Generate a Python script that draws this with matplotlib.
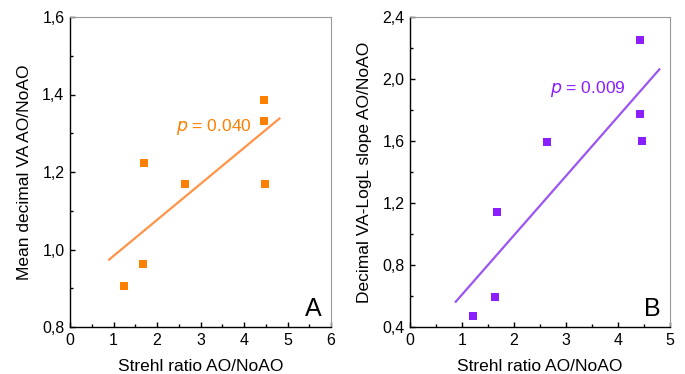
import matplotlib
matplotlib.use("Agg")
import matplotlib.pyplot as plt
from matplotlib.ticker import MultipleLocator, FuncFormatter

# Panel A data
strehl_a = [1.24, 1.67, 1.69, 2.65, 4.45, 4.46, 4.48]
va_a = [0.905, 0.962, 1.223, 1.168, 1.385, 1.332, 1.169]
fit_a_x = [0.90, 4.815]
fit_a_y = [0.974, 1.338]

# Panel B data
strehl_b = [1.21, 1.64, 1.67, 2.63, 4.42, 4.43, 4.46]
slope_b = [0.473, 0.594, 1.144, 1.594, 2.254, 1.774, 1.602]
fit_b_x = [0.88, 4.795]
fit_b_y = [0.563, 2.062]

plt.rcParams['font.family'] = ['Liberation Sans', 'DejaVu Sans']

fig = plt.figure(figsize=(6.85, 3.74), dpi=100)
axA = fig.add_axes([70/685, 1-327/374, 261/685, 310/374])
axB = fig.add_axes([410/685, 1-327/374, 260/685, 310/374])

comma = FuncFormatter(lambda v, p: f"{v:.1f}".replace('.', ','))

def style(ax):
    for s in ['top', 'right']:
        ax.spines[s].set_color('#999999')
        ax.spines[s].set_linewidth(0.8)
    for s in ['left', 'bottom']:
        ax.spines[s].set_color('black')
        ax.spines[s].set_linewidth(1.0)
    ax.tick_params(which='both', direction='in', top=False, right=False,
                   labelsize=11.5, pad=4)
    ax.tick_params(which='major', length=3.5, width=1)
    ax.tick_params(which='minor', length=2.5, width=1)

orange = '#FF7F00'
purple = '#8A1EFF'

axA.plot(fit_a_x, fit_a_y, color='#FF9448', lw=1.6)
axA.scatter(strehl_a, va_a, marker='s', s=30, color=orange, zorder=3, linewidths=0)
axA.set_xlim(0, 6)
axA.set_ylim(0.8, 1.6)
axA.xaxis.set_major_locator(MultipleLocator(1))
axA.xaxis.set_minor_locator(MultipleLocator(0.5))
axA.yaxis.set_major_locator(MultipleLocator(0.2))
axA.yaxis.set_minor_locator(MultipleLocator(0.1))
axA.yaxis.set_major_formatter(comma)
axA.set_xlabel('Strehl ratio AO/NoAO', fontsize=12.5, labelpad=8)
axA.set_ylabel('Mean decimal VA AO/NoAO', fontsize=12.5, labelpad=7)
axA.text(2.43, 1.316, r'$p$ = 0.040', color=orange, fontsize=12.5, va='center', ha='left')
axA.text(0.965, 0.02, 'A', transform=axA.transAxes, fontsize=18, ha='right', va='bottom')
style(axA)

axB.plot(fit_b_x, fit_b_y, color='#9B55F2', lw=1.6)
axB.scatter(strehl_b, slope_b, marker='s', s=30, color=purple, zorder=3, linewidths=0)
axB.set_xlim(0, 5)
axB.set_ylim(0.4, 2.4)
axB.xaxis.set_major_locator(MultipleLocator(1))
axB.xaxis.set_minor_locator(MultipleLocator(0.5))
axB.yaxis.set_major_locator(MultipleLocator(0.4))
axB.yaxis.set_minor_locator(MultipleLocator(0.2))
axB.yaxis.set_major_formatter(comma)
axB.set_xlabel('Strehl ratio AO/NoAO', fontsize=12.5, labelpad=8)
axB.set_ylabel('Decimal VA-LogL slope AO/NoAO', fontsize=12.5, labelpad=7)
axB.text(2.70, 1.937, r'$p$ = 0.009', color=purple, fontsize=12.5, va='center', ha='left')
axB.text(0.965, 0.02, 'B', transform=axB.transAxes, fontsize=18, ha='right', va='bottom')
style(axB)

fig.savefig('out.png', dpi=100)
